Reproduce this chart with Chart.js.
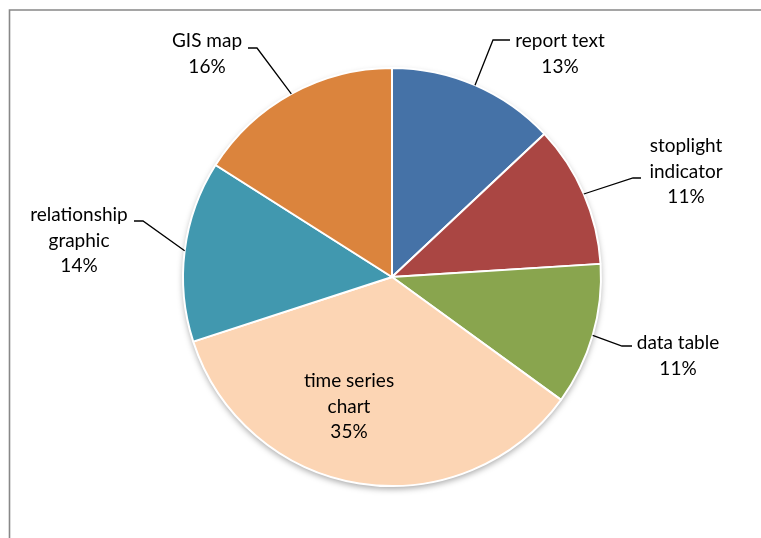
<!DOCTYPE html>
<html>
<head>
<meta charset="utf-8">
<script src="https://cdn.jsdelivr.net/npm/chart.js@4.4.0/dist/chart.umd.min.js"></script>
<style>
  html, body { margin: 0; padding: 0; background: #fff; }
  #wrap { width: 761px; height: 538px; position: relative; }
</style>
</head>
<body>
<div id="wrap"><canvas id="pie-chart" width="761" height="538"></canvas></div>
<script>
// chart data
const categories = ['report text', 'stoplight indicator', 'data table', 'time series chart', 'relationship graphic', 'GIS map'];
const shares = [13, 11, 11, 35, 14, 16];
const sliceColors = ['#4572A7', '#AA4643', '#89A54E', '#FCD5B4', '#4198AF', '#DB843D'];

// label text lines and where they sit (x, y of first line), plus leader bend points
const labelLines = [
  ['report text', '13%'],
  ['stoplight', 'indicator', '11%'],
  ['data table', '11%'],
  ['time series', 'chart', '35%'],
  ['relationship', 'graphic', '14%'],
  ['GIS map', '16%']
];
const labelPos = [[560, 41], [686, 146], [678, 343], [349, 381], [79, 215], [207, 41]];
// leader: [bendX, bendY, endX] ; null = label inside slice
const leaders = [[493, 40, 510], [633, 178, 641], [622, 346, 632], null, [143, 221, 134], [257, 48, 248]];

const framePlugin = {
  id: 'frame',
  beforeDraw(chart) {
    const ctx = chart.ctx;
    ctx.save();
    ctx.strokeStyle = '#888';
    ctx.lineWidth = 1.6;
    ctx.beginPath();
    ctx.moveTo(9.5, 538);
    ctx.lineTo(9.5, 10);
    ctx.lineTo(761, 10);
    ctx.stroke();
    ctx.restore();
  },
  beforeDatasetsDraw(chart) {
    // soft drop shadow under the pie
    const arc = chart.getDatasetMeta(0).data[0];
    const ctx = chart.ctx;
    ctx.save();
    ctx.shadowColor = 'rgba(0,0,0,0.35)';
    ctx.shadowBlur = 6;
    ctx.shadowOffsetY = 3;
    ctx.fillStyle = '#fff';
    ctx.beginPath();
    ctx.arc(arc.x, arc.y, arc.outerRadius, 0, Math.PI * 2);
    ctx.fill();
    ctx.restore();
  },
  afterDatasetsDraw(chart) {
    const ctx = chart.ctx;
    const arcs = chart.getDatasetMeta(0).data;
    ctx.save();
    ctx.font = '19px Lato, "Open Sans", sans-serif';
    ctx.fillStyle = '#000';
    ctx.textAlign = 'center';
    ctx.textBaseline = 'middle';
    labelLines.forEach((lines, i) => {
      const [x, y] = labelPos[i];
      lines.forEach((t, k) => ctx.fillText(t, x, y + k * 25.5));
      const ld = leaders[i];
      if (ld) {
        const a = arcs[i];
        const mid = (a.startAngle + a.endAngle) / 2;
        const sx = a.x + Math.cos(mid) * a.outerRadius;
        const sy = a.y + Math.sin(mid) * a.outerRadius;
        ctx.strokeStyle = '#000';
        ctx.lineWidth = 1.3;
        ctx.beginPath();
        ctx.moveTo(sx, sy);
        ctx.lineTo(ld[0], ld[1]);
        ctx.lineTo(ld[2], ld[1]);
        ctx.stroke();
      }
    });
    ctx.restore();
  }
};

const ctx = document.getElementById('pie-chart').getContext('2d');
new Chart(ctx, {
  type: 'pie',
  data: {
    labels: categories,
    datasets: [{
      data: shares,
      backgroundColor: sliceColors,
      borderColor: '#ffffff',
      borderWidth: 2,
      hoverOffset: 0
    }]
  },
  options: {
    responsive: false,
    animation: false,
    events: [],
    layout: { padding: { top: 67, bottom: 51, left: 100, right: 77 } },
    plugins: {
      legend: { display: false },
      tooltip: { enabled: false }
    }
  },
  plugins: [framePlugin]
});
</script>
</body>
</html>
